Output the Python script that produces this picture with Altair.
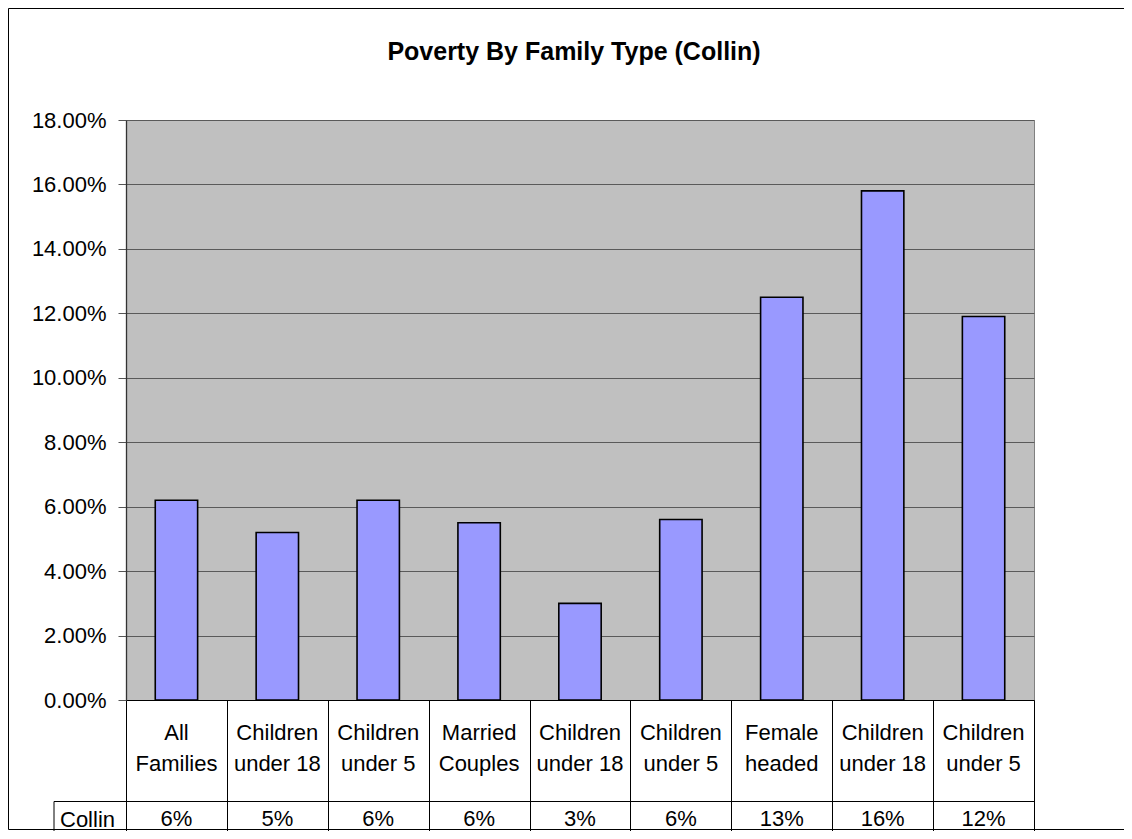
import altair as alt
import pandas as pd

chart_title = "Poverty By Family Type (Collin)"
series_name = "Collin"
categories = [
    "All\nFamilies", "Children\nunder 18", "Children\nunder 5",
    "Married\nCouples", "Children\nunder 18", "Children\nunder 5",
    "Female\nheaded", "Children\nunder 18", "Children\nunder 5",
]
poverty_rate = [0.062, 0.052, 0.062, 0.055, 0.030, 0.056, 0.125, 0.158, 0.119]
table_values = ["6%", "5%", "6%", "6%", "3%", "6%", "13%", "16%", "12%"]
y_ticks = [0.0, 0.02, 0.04, 0.06, 0.08, 0.10, 0.12, 0.14, 0.16, 0.18]

df = pd.DataFrame({
    "key": [f"c{i}" for i in range(len(categories))],
    "label": categories,
    "rate": poverty_rate,
    "shown": table_values,
})
one = pd.DataFrame({"name": [series_name], "title": [chart_title]})

FONT = "Liberation Sans"
W, H = 908, 580

x_enc = alt.X(
    "key:N", sort=None,
    scale=alt.Scale(paddingInner=0, paddingOuter=0),
    axis=alt.Axis(labels=False, title=None, domain=True, domainColor="black",
                  domainWidth=1, ticks=True, tickBand="extent", tickSize=131,
                  tickColor="black", tickWidth=1),
)

border = alt.Chart(one).mark_rect(fillOpacity=0, stroke="black", strokeWidth=1).encode(
    x=alt.value(-117.5), x2=alt.value(1010), y=alt.value(-111.5), y2=alt.value(709.5)
)

bars = alt.Chart(df).mark_bar(
    width=alt.RelativeBandSize(0.42), fill="#9999FF", stroke="black", strokeWidth=1.6
).encode(
    x=x_enc,
    y=alt.Y("rate:Q", scale=alt.Scale(domain=[0, 0.18], nice=False),
            axis=alt.Axis(values=y_ticks, format=".2%", title=None,
                          labelFont=FONT, labelFontSize=22, labelColor="black",
                          labelPadding=12, tickSize=8, tickColor="#555555",
                          domainColor="#333333", domainWidth=1.3,
                          grid=True, gridColor="#5a5a5a", gridWidth=1.2)),
)

title_text = alt.Chart(one).mark_text(
    font=FONT, fontSize=25, fontWeight="bold", color="black", align="center", baseline="middle"
).encode(x=alt.value(448), y=alt.value(-68), text="title:N")

labels = alt.Chart(df).mark_text(
    lineBreak="\n", font=FONT, fontSize=22, color="black", baseline="middle", lineHeight=31
).encode(x=alt.X("key:N", sort=None), y=alt.value(613), text="label:N")

values = alt.Chart(df).mark_text(
    font=FONT, fontSize=22, color="black", baseline="middle"
).encode(x=alt.X("key:N", sort=None), y=alt.value(699), text="shown:N")

row_line = alt.Chart(one).mark_rule(color="black", strokeWidth=1).encode(
    x=alt.value(-72), x2=alt.value(W), y=alt.value(681.5)
)
cell_line = alt.Chart(one).mark_rule(color="black", strokeWidth=1).encode(
    x=alt.value(-72), y=alt.value(681.5), y2=alt.value(720)
)
series_label = alt.Chart(one).mark_text(
    font=FONT, fontSize=22, color="black", align="left", baseline="middle"
).encode(x=alt.value(-66), y=alt.value(700), text="name:N")

chart = alt.layer(border, title_text, bars, labels, values, row_line, cell_line, series_label).properties(
    width=W, height=H,
    autosize=alt.AutoSizeParams(type="none"),
    padding={"left": 118, "top": 112, "right": 90, "bottom": 131},
).configure(
    background="white",
    view=alt.ViewConfig(fill="#C0C0C0", stroke="#808080", strokeWidth=1),
)

chart.save("out.html", embed_options={"renderer": "svg", "actions": False})
